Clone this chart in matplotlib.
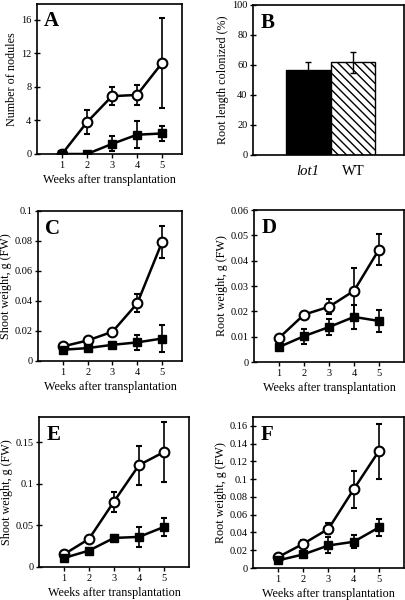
import numpy as np
import matplotlib
matplotlib.use('Agg')
import matplotlib.pyplot as plt

plt.rcParams['font.family'] = ['Liberation Serif', 'DejaVu Serif']
plt.rcParams['hatch.linewidth'] = 1.0
plt.rcParams['hatch.color'] = '#444444'

weeks = [1, 2, 3, 4, 5]

# A: number of nodules
nod_wt = [0, 3.8, 6.9, 7.05, 10.85]
nod_wt_err = [0, 1.4, 1.1, 1.15, 5.4]
nod_lot1 = [0, 0, 1.2, 2.3, 2.45]
nod_lot1_err = [0, 0, 0.9, 1.6, 0.95]

# B: root length colonized
col_labels = ['lot1', 'WT']
col_values = [56.5, 62.0]
col_err = [5.5, 7.0]

# C: shoot weight
sw1_wt = [0.0097, 0.0137, 0.0195, 0.0385, 0.0794]
sw1_wt_err = [0.001, 0.001, 0.0015, 0.006, 0.0105]
sw1_lot1 = [0.0075, 0.0086, 0.0108, 0.0124, 0.015]
sw1_lot1_err = [0.0008, 0.001, 0.002, 0.005, 0.0088]

# D: root weight
rw1_wt = [0.0095, 0.0187, 0.0218, 0.0281, 0.0444]
rw1_wt_err = [0.001, 0.001, 0.003, 0.009, 0.006]
rw1_lot1 = [0.0059, 0.0102, 0.0138, 0.0178, 0.0162]
rw1_lot1_err = [0.0005, 0.003, 0.003, 0.0047, 0.0044]

# E: shoot weight
sw2_wt = [0.0152, 0.0337, 0.0786, 0.1223, 0.138]
sw2_wt_err = [0.002, 0.003, 0.012, 0.0235, 0.0355]
sw2_lot1 = [0.0108, 0.0197, 0.0349, 0.0361, 0.0481]
sw2_lot1_err = [0.001, 0.002, 0.003, 0.0115, 0.0107]

# F: root weight
rw2_wt = [0.0123, 0.0273, 0.0441, 0.0886, 0.1316]
rw2_wt_err = [0.002, 0.004, 0.006, 0.021, 0.031]
rw2_lot1 = [0.0086, 0.0153, 0.0254, 0.0295, 0.0456]
rw2_lot1_err = [0.001, 0.003, 0.009, 0.0072, 0.010]

W, H = 406, 600
fig = plt.figure(figsize=(W / 100, H / 100), dpi=100)


def ax_at(left, right, top, bottom):
    return fig.add_axes([left / W, 1 - bottom / H, (right - left) / W, (bottom - top) / H])


def style(ax, letter):
    for s in ax.spines.values():
        s.set_linewidth(1.2)
    ax.tick_params(axis='y', direction='inout', length=5, width=1.0, labelsize=7.5, pad=1.5)
    ax.tick_params(axis='x', direction='out', length=3, width=1.0, labelsize=7.5, pad=2)
    ax.text(0.05, 0.95, letter, transform=ax.transAxes, ha='left', va='top',
            fontsize=15, fontweight='bold')


def line_panel(ax, wt, wt_err, lot1, lot1_err, ylim, yticks, ylabels, xmax, ylabel, letter):
    ax.errorbar(weeks, wt, yerr=wt_err, color='black', lw=1.8, marker='o', ms=7,
                mfc='white', mec='black', mew=1.5, capsize=2, elinewidth=1.2,
                capthick=1.5, zorder=3)
    ax.errorbar(weeks, lot1, yerr=lot1_err, color='black', lw=1.8, marker='s', ms=5.5,
                mfc='black', mec='black', capsize=2, elinewidth=1.2, capthick=1.5,
                zorder=4)
    ax.set_xlim(0, xmax)
    ax.set_ylim(*ylim)
    ax.set_xticks(weeks)
    ax.set_yticks(yticks)
    ax.set_yticklabels(ylabels)
    ax.set_xlabel('Weeks after transplantation', fontsize=8.7, labelpad=3)
    ax.set_ylabel(ylabel, fontsize=8.7, labelpad=2)
    style(ax, letter)


axA = ax_at(37, 182, 4, 154)
line_panel(axA, nod_wt, nod_wt_err, nod_lot1, nod_lot1_err, (0, 17.9),
           [0, 4, 8, 12, 16], ['0', '4', '8', '12', '16'], 5.8,
           'Number of nodules', 'A')

axB = ax_at(253, 404, 5, 155)
xb = np.arange(len(col_labels))
axB.bar(xb, col_values, width=1.0, color=['black', 'white'], edgecolor='black',
        linewidth=1.0, hatch=['', '\\\\\\\\'])
axB.errorbar(xb, col_values, yerr=col_err, fmt='none', ecolor='black',
             elinewidth=1.0, capsize=2, capthick=1.0)
axB.set_xlim(-1.23, 2.14)
axB.set_ylim(0, 100)
axB.set_yticks([0, 20, 40, 60, 80, 100])
axB.set_xticks(xb)
axB.set_xticklabels(col_labels)
axB.set_ylabel('Root length colonized (%)', fontsize=8.7, labelpad=2)
style(axB, 'B')
axB.tick_params(axis='x', length=0, pad=7, labelsize=10.5)
axB.get_xticklabels()[0].set_style('italic')

axC = ax_at(38, 182, 211, 361)
line_panel(axC, sw1_wt, sw1_wt_err, sw1_lot1, sw1_lot1_err, (0, 0.1),
           [0, 0.02, 0.04, 0.06, 0.08, 0.1], ['0', '0.02', '0.04', '0.06', '0.08', '0.1'],
           5.8, 'Shoot weight, g (FW)', 'C')

axD = ax_at(254, 404, 210, 362)
line_panel(axD, rw1_wt, rw1_wt_err, rw1_lot1, rw1_lot1_err, (0, 0.06),
           [0, 0.01, 0.02, 0.03, 0.04, 0.05, 0.06],
           ['0', '0.01', '0.02', '0.03', '0.04', '0.05', '0.06'],
           6, 'Root weight, g (FW)', 'D')

axE = ax_at(39, 189, 417, 567)
line_panel(axE, sw2_wt, sw2_wt_err, sw2_lot1, sw2_lot1_err, (0, 0.18),
           [0, 0.05, 0.1, 0.15], ['0', '0.05', '0.1', '0.15'],
           6, 'Shoot weight, g (FW)', 'E')

axF = ax_at(253, 404, 417, 568)
line_panel(axF, rw2_wt, rw2_wt_err, rw2_lot1, rw2_lot1_err, (0, 0.17),
           [0, 0.02, 0.04, 0.06, 0.08, 0.1, 0.12, 0.14, 0.16],
           ['0', '0.02', '0.04', '0.06', '0.08', '0.1', '0.12', '0.14', '0.16'],
           6, 'Root weight, g (FW)', 'F')

fig.savefig('out.png', dpi=100)
